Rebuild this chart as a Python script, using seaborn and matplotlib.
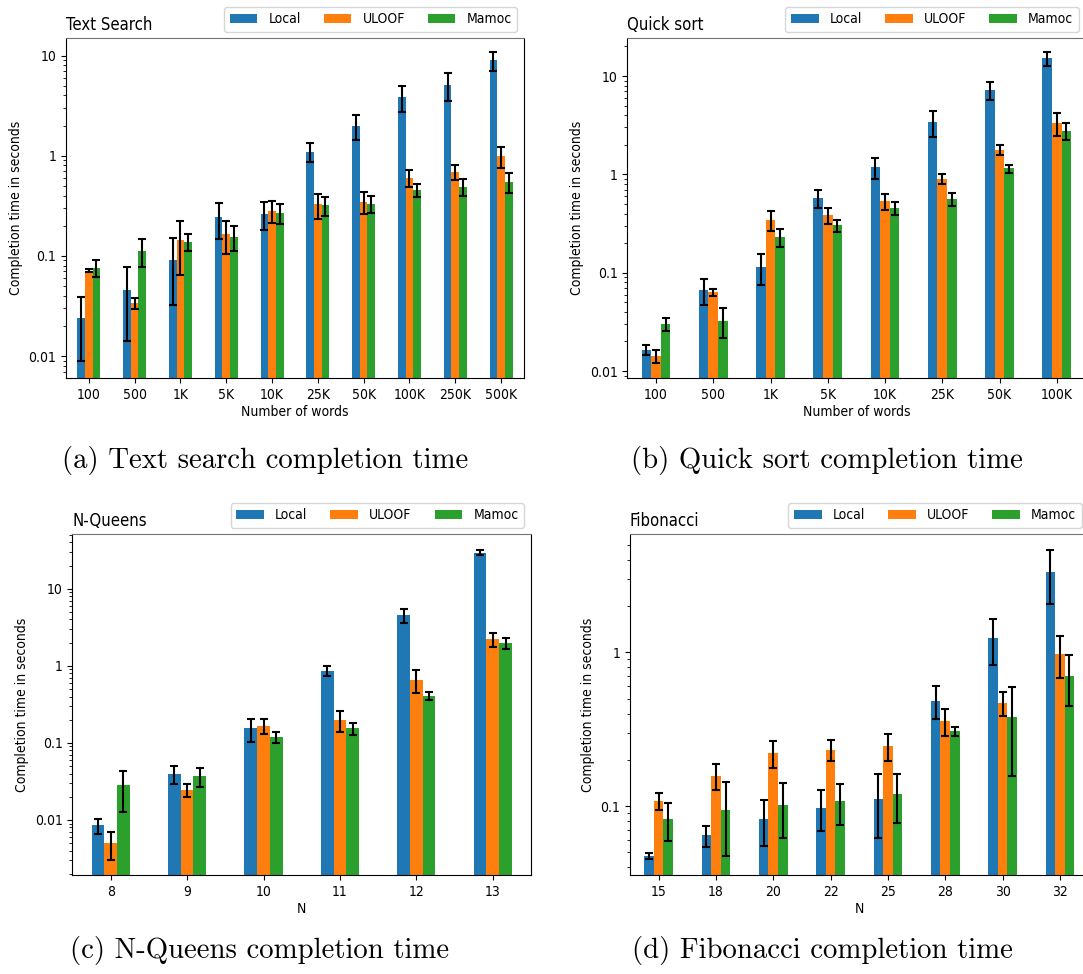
import numpy as np
import pandas as pd
import matplotlib
matplotlib.use("Agg")
import matplotlib.pyplot as plt
import matplotlib.ticker as mticker
import seaborn as sns

plt.rcParams["font.family"] = ["DejaVu Sans"]
plt.rcParams["font.stretch"] = "condensed"

methods = ["Local", "ULOOF", "Mamoc"]
colors = ["#1f77b4", "#ff7f0e", "#2ca02c"]

# (a) Text search
ts_words = ["100", "500", "1K", "5K", "10K", "25K", "50K", "100K", "250K", "500K"]
ts_local = [0.024, 0.046, 0.091, 0.244, 0.263, 1.10, 2.0, 3.86, 5.09, 8.98]
ts_local_err = [0.015, 0.032, 0.059, 0.097, 0.082, 0.23, 0.55, 1.15, 1.6, 1.9]
ts_uloof = [0.0713, 0.0336, 0.145, 0.165, 0.282, 0.326, 0.349, 0.603, 0.687, 0.985]
ts_uloof_err = [0.003, 0.004, 0.08, 0.06, 0.07, 0.09, 0.09, 0.11, 0.12, 0.23]
ts_mamoc = [0.0759, 0.113, 0.139, 0.155, 0.267, 0.319, 0.331, 0.457, 0.49, 0.545]
ts_mamoc_err = [0.015, 0.035, 0.028, 0.044, 0.06, 0.07, 0.065, 0.07, 0.09, 0.12]

# (b) Quick sort
qs_words = ["100", "500", "1K", "5K", "10K", "25K", "50K", "100K"]
qs_local = [0.0164, 0.0667, 0.115, 0.574, 1.18, 3.41, 7.26, 15.1]
qs_local_err = [0.002, 0.02, 0.04, 0.115, 0.28, 1.0, 1.5, 2.4]
qs_uloof = [0.0143, 0.0636, 0.346, 0.383, 0.531, 0.904, 1.78, 3.33]
qs_uloof_err = [0.0022, 0.0055, 0.08, 0.07, 0.095, 0.1, 0.21, 0.85]
qs_mamoc = [0.0301, 0.0325, 0.232, 0.303, 0.455, 0.561, 1.15, 2.78]
qs_mamoc_err = [0.0048, 0.011, 0.048, 0.042, 0.065, 0.08, 0.11, 0.55]

# (c) N-Queens
nq_n = ["8", "9", "10", "11", "12", "13"]
nq_local = [0.0085, 0.0397, 0.154, 0.87, 4.54, 29.5]
nq_local_err = [0.0019, 0.0105, 0.05, 0.13, 0.9, 2.2]
nq_uloof = [0.00506, 0.0244, 0.167, 0.197, 0.658, 2.2]
nq_uloof_err = [0.002, 0.0046, 0.038, 0.06, 0.22, 0.43]
nq_mamoc = [0.0281, 0.037, 0.12, 0.154, 0.404, 1.95]
nq_mamoc_err = [0.0155, 0.01, 0.019, 0.028, 0.048, 0.32]

# (d) Fibonacci
fib_n = ["15", "18", "20", "22", "25", "28", "30", "32"]
fib_local = [0.0473, 0.0644, 0.0822, 0.0975, 0.1116, 0.485, 1.24, 3.35]
fib_local_err = [0.002, 0.01, 0.027, 0.029, 0.05, 0.117, 0.41, 1.3]
fib_uloof = [0.108, 0.158, 0.22, 0.233, 0.246, 0.357, 0.47, 0.98]
fib_uloof_err = [0.014, 0.03, 0.044, 0.038, 0.05, 0.072, 0.085, 0.3]
fib_mamoc = [0.0822, 0.095, 0.1016, 0.1072, 0.1197, 0.308, 0.378, 0.705]
fib_mamoc_err = [0.023, 0.048, 0.04, 0.032, 0.042, 0.021, 0.22, 0.26]

panels = [
    ("Text Search", "Number of words", ts_words, [ts_local, ts_uloof, ts_mamoc],
     [ts_local_err, ts_uloof_err, ts_mamoc_err], (0.00603, 15.0),
     [0.0609, 0.6119, 0.4229, 0.3491]),
    ("Quick sort", "Number of words", qs_words, [qs_local, qs_uloof, qs_mamoc],
     [qs_local_err, qs_uloof_err, qs_mamoc_err], (0.0085, 24.4),
     [0.5793, 0.6119, 0.4229, 0.3491]),
    ("N-Queens", "N", nq_n, [nq_local, nq_uloof, nq_mamoc],
     [nq_local_err, nq_uloof_err, nq_mamoc_err], (0.00193, 51.3),
     [0.0669, 0.1016, 0.4234, 0.3501]),
    ("Fibonacci", "N", fib_n, [fib_local, fib_uloof, fib_mamoc],
     [fib_local_err, fib_uloof_err, fib_mamoc_err], (0.0356, 5.88),
     [0.5817, 0.1016, 0.4234, 0.3501]),
]

captions = [
    ("(a) Text search completion time", 0.2447, 0.5277),
    ("(b) Quick sort completion time", 0.764, 0.5277),
    ("(c) N-Queens completion time", 0.240, 0.0246),
    ("(d) Fibonacci completion time", 0.7595, 0.0246),
]

fig = plt.figure(figsize=(10.83, 9.74), dpi=100)

for title, xlabel, cats, vals, errs, ylim, pos in panels:
    ax = fig.add_axes(pos)
    df = pd.DataFrame({
        "x": np.tile(cats, 3),
        "method": np.repeat(methods, len(cats)),
        "time": np.concatenate(vals),
    })
    sns.barplot(data=df, x="x", y="time", hue="method", order=cats,
                hue_order=methods, palette=colors, width=0.5, saturation=1,
                errorbar=None, linewidth=0, legend=False, ax=ax)
    bars = list(ax.containers[:3])
    for cont, v, e in zip(bars, vals, errs):
        xs = [b.get_x() + b.get_width() / 2 for b in cont]
        ax.errorbar(xs, v, yerr=e, fmt="none", ecolor="black",
                    capsize=3, elinewidth=1.5, capthick=1.5)
    ax.set_yscale("log")
    ax.set_ylim(*ylim)
    ax.set_xlim(-0.5, len(cats) - 0.5)
    ax.yaxis.set_major_formatter(mticker.FuncFormatter(lambda v, p: f"{v:g}"))
    ax.yaxis.set_minor_formatter(mticker.NullFormatter())
    ax.tick_params(labelsize=10)
    ax.set_xlabel(xlabel, fontsize=10, labelpad=2)
    ax.set_ylabel("Completion time in seconds", fontsize=10)
    ax.set_title(title, loc="left", fontsize=12)
    ax.spines["top"].set_color("0.45")
    ax.legend(bars, methods, ncol=3, mode="expand", loc="lower left",
              bbox_to_anchor=(0.345, 1.018, 0.64, 0.07), borderaxespad=0,
              fontsize=10)

for text, x, y in captions:
    fig.text(x, y, text, ha="center", va="center", family="cmr10", fontsize=20.7)

fig.savefig("out.png", dpi=100)
